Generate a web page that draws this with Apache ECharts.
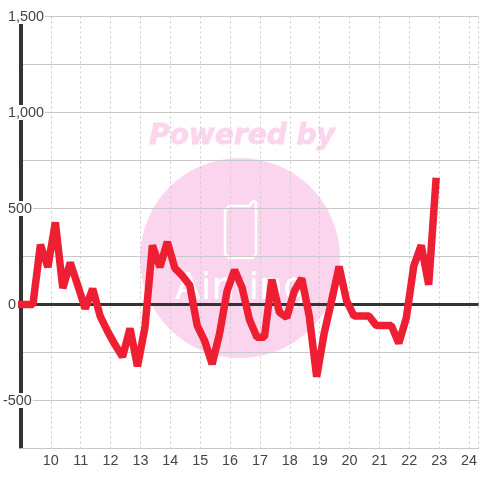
<!DOCTYPE html>
<html><head><meta charset="utf-8">
<style>html,body{margin:0;padding:0;background:#fff}#c{width:480px;height:480px}</style>
<script src="https://cdn.jsdelivr.net/npm/echarts@6/dist/echarts.min.js"></script>
</head><body><div id="c"></div>
<script>
const xValues = [8.9,9.15,9.4,9.65,9.9,10.15,10.4,10.65,10.9,11.15,11.4,11.65,11.9,12.15,12.4,12.65,12.9,13.15,13.4,13.65,13.9,14.15,14.4,14.65,14.9,15.15,15.4,15.65,15.9,16.15,16.4,16.65,16.9,17.15,17.4,17.65,17.9,18.15,18.4,18.65,18.9,19.15,19.4,19.65,19.9,20.15,20.4,20.65,20.9,21.15,21.4,21.65,21.9,22.15,22.4,22.65,22.9];
const yValues = [0,0,0,312,195,428,85,218,100,-22,82,-60,-140,-210,-272,-125,-322,-120,308,195,326,190,150,100,-110,-190,-310,-150,70,180,90,-80,-170,-170,130,-40,-68,70,136,-60,-376,-150,20,198,20,-60,-60,-60,-110,-110,-110,-202,-70,200,308,103,660];
const yTickLabels = {'1500':'1,500','1000':'1,000','500':'500','0':'0','-500':'-500'};
const chart = echarts.init(document.getElementById('c'), null, {renderer:'canvas'});
const pink = '#fbd5ee';
const white = '#ffffff';
const labelFont = {fontFamily:'"Liberation Sans"',fontSize:14.4,color:'#444',backgroundColor:'#fff'};
chart.setOption({
  animation:false,
  backgroundColor:'#fff',
  grid:{left:20.4,right:0,top:16.5,bottom:31.5,containLabel:false},
  graphic:[
    {type:'circle',z:-1,silent:true,shape:{cx:240,cy:258,r:100},style:{fill:pink}},
    {type:'text',z:-1,silent:true,x:242,y:137,style:{text:'Powered by',fill:pink,stroke:pink,lineWidth:0.8,font:'italic bold 28px "DejaVu Sans"',align:'center',verticalAlign:'middle'}},
    {type:'polyline',z:-1,silent:true,shape:{points:[[229,206],[250,206],[251,203],[254,201],[256,203],[256,254],[253,258],[229,258],[225,254],[225,210],[229,206]]},style:{stroke:white,lineWidth:2.5,fill:null,lineJoin:'round'}},
    {type:'text',z:-1,silent:true,x:241,y:289,style:{text:'Aiming',fill:white,font:'38px "DejaVu Sans"',align:'center',verticalAlign:'middle'}}
  ],
  xAxis:[
    {type:'value',min:9,max:24.32,interval:1,position:'bottom',
     axisLine:{onZero:false,show:true,lineStyle:{color:'#c8c8c8',width:1}},axisTick:{show:false},
     splitLine:{show:true,lineStyle:{color:'#c8c8c8',width:1,type:[2,3]}},
     axisLabel:{show:true,color:'#444',fontFamily:'"Liberation Sans"',fontSize:14.4,margin:6,showMinLabel:false,showMaxLabel:false,
       formatter:v=>Number.isInteger(v)?String(v):''}},
    {type:'value',min:9,max:24.32,interval:1,position:'bottom',
     axisLine:{onZero:true,show:true,lineStyle:{color:'#333',width:3,cap:'butt'}},axisTick:{show:false},splitLine:{show:false},axisLabel:{show:false}}
  ],
  yAxis:{type:'value',min:-750,max:1500,interval:250,
    axisLine:{show:true,lineStyle:{color:'#333',width:4,cap:'butt'}},axisTick:{show:false},
    splitLine:{show:true,lineStyle:{color:'#c8c8c8',width:1}},
    axisLabel:{show:true,align:'left',margin:18,fontFamily:'"Liberation Sans"',fontSize:14.4,color:'#444',lineHeight:17,
      formatter:v=>{const t=yTickLabels[String(v)];if(!t)return '';return v<0?'{n|'+t+'}':'{p|'+t+'}';},
      rich:{p:Object.assign({padding:[1,1,0,5]},labelFont),n:Object.assign({padding:[1,1,0,0]},labelFont)}}},
  series:[{type:'line',xAxisIndex:0,yAxisIndex:0,data:xValues.map((x,i)=>[x,yValues[i]]),showSymbol:false,symbol:'none',clip:false,z:5,
    lineStyle:{color:'#ee1f33',width:7.5,cap:'butt',join:'bevel'}}]
});
</script></body></html>
